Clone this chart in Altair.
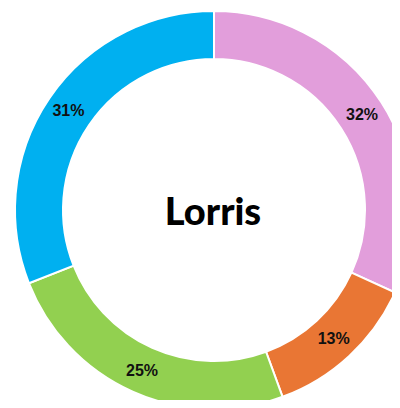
import altair as alt
import pandas as pd

categories = ["Segment A", "Segment B", "Segment C", "Segment D"]
values = [31.8, 12.6, 24.6, 31.0]
labels = ["32%", "13%", "25%", "31%"]
colors = ["#E29EDB", "#E97634", "#92D050", "#00B0F0"]
center_title = ["Lorris"]

df = pd.DataFrame({
    "category": categories,
    "value": values,
    "label": labels,
    "order": list(range(len(categories))),
})

CX, CY = 206, 202

base = alt.Chart(df).encode(
    theta=alt.Theta("value:Q", stack=True),
    order=alt.Order("order:Q"),
    x=alt.value(CX),
    y=alt.value(CY),
)

arc = base.mark_arc(outerRadius=199, innerRadius=151, stroke="white", strokeWidth=2).encode(
    color=alt.Color("category:N", scale=alt.Scale(domain=categories, range=colors), legend=None)
)

text = base.mark_text(radius=176, fontSize=16, fontWeight="bold", font="Liberation Sans",
                      color="#111111").encode(text="label:N")

center = alt.Chart(pd.DataFrame({"t": center_title})).mark_text(
    font="Lato", fontWeight=900, fontSize=38, color="#000000", baseline="middle", align="center"
).encode(text="t:N", x=alt.value(205), y=alt.value(206))

chart = alt.layer(arc, text, center).properties(
    width=384, height=392, padding=0,
    autosize=alt.AutoSizeParams(type="none"),
).configure_view(strokeWidth=0)

chart.save("out.html", embed_options={"renderer": "svg", "actions": False})
